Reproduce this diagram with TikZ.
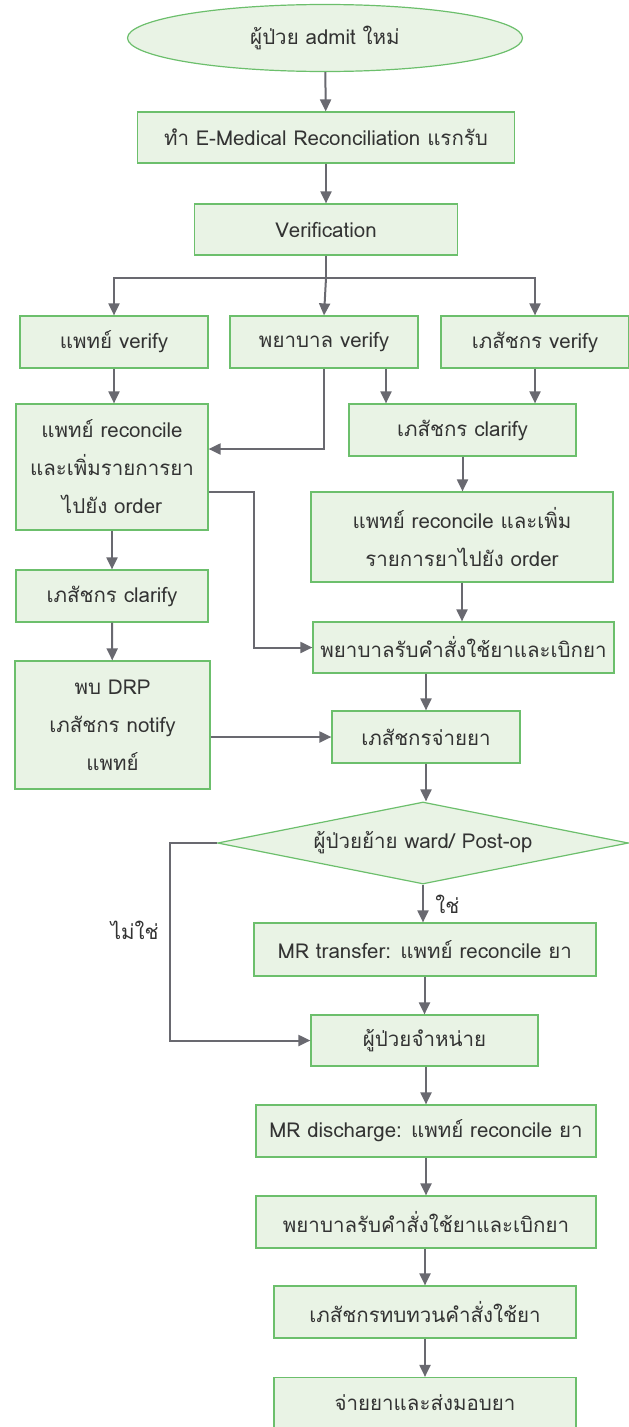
\documentclass[tikz,border=0pt]{standalone}
\usepackage{fontspec}
\setmainfont{Loma}[Script=Thai]
\usetikzlibrary{shapes.geometric,arrows.meta}
\definecolor{boxfill}{RGB}{233,243,229}
\definecolor{boxline}{RGB}{108,191,108}
\definecolor{arrowc}{RGB}{105,105,112}
\definecolor{txt}{RGB}{51,51,51}
\tikzset{>={Triangle[length=12pt,width=11pt]}}
\tikzset{
  stepbox/.style = {draw=boxline, fill=boxfill, line width=1.2pt, inner sep=0pt,
    align=center, text=txt, font=\fontsize{20.5}{38}\selectfont},
  startnode/.style = {stepbox, ellipse},
  asknode/.style = {stepbox, diamond},
  flow/.style = {->, draw=arrowc, line width=2pt},
  flowtext/.style = {text=txt, font=\fontsize{20.5}{22}\selectfont}
}

\begin{document}
\begin{tikzpicture}[x=1pt, y=-1pt]
  \useasboundingbox (0,0) rectangle (629,1427);
  % top part
  \node[startnode, minimum width=395pt, minimum height=67pt] (admit) at (325,38) {ผู้ป่วย admit ใหม่};
  \node[stepbox, minimum width=377pt, minimum height=51pt] (emr) at (326,137.5) {ทำ E-Medical Reconciliation แรกรับ};
  \node[stepbox, minimum width=263pt, minimum height=51pt] (verif) at (326,229.5) {Verification};
  % three verify steps
  \node[stepbox, minimum width=188pt, minimum height=52pt] (mdv) at (114,342) {แพทย์ verify};
  \node[stepbox, minimum width=188pt, minimum height=52pt] (nsv) at (324,342) {พยาบาล verify};
  \node[stepbox, minimum width=188pt, minimum height=52pt] (rphv) at (535,342) {เภสัชกร verify};
  % left branch
  \node[stepbox, minimum width=192pt, minimum height=126pt] (mdrec) at (112,467) {แพทย์ reconcile\\และเพิ่มรายการยา\\ไปยัง order};
  \node[stepbox, minimum width=192pt, minimum height=52pt] (rphcl) at (112,596) {เภสัชกร clarify};
  \node[stepbox, minimum width=195pt, minimum height=128pt] (drp) at (112.5,725) {พบ DRP\\เภสัชกร notify\\แพทย์};
  % right branch
  \node[stepbox, minimum width=227pt, minimum height=52pt] (rphcr) at (462.5,430) {เภสัชกร clarify};
  \node[stepbox, minimum width=302pt, minimum height=90pt] (mdrecr) at (462,537) {แพทย์ reconcile และเพิ่ม\\รายการยาไปยัง order};
  \node[stepbox, minimum width=301pt, minimum height=51pt] (nsord) at (463.5,647.5) {พยาบาลรับคำสั่งใช้ยาและเบิกยา};
  \node[stepbox, minimum width=188pt, minimum height=52pt] (disp) at (426,737) {เภสัชกรจ่ายยา};
  % decision and discharge
  \node[asknode, minimum width=411pt, minimum height=82pt] (moved) at (423,843) {\makebox[0pt]{ผู้ป่วยย้าย ward/ Post-op}};
  \node[stepbox, minimum width=342pt, minimum height=53pt] (mrtr) at (425,949.5) {MR transfer: แพทย์ reconcile ยา};
  \node[stepbox, minimum width=227pt, minimum height=51pt] (dc) at (424.5,1040.5) {ผู้ป่วยจำหน่าย};
  \node[stepbox, minimum width=340pt, minimum height=52pt] (mrdc) at (426,1131) {MR discharge: แพทย์ reconcile ยา};
  \node[stepbox, minimum width=340pt, minimum height=52pt] (nsdc) at (426,1222) {พยาบาลรับคำสั่งใช้ยาและเบิกยา};
  \node[stepbox, minimum width=302pt, minimum height=52pt] (rphrev) at (425,1312) {เภสัชกรทบทวนคำสั่งใช้ยา};
  \node[stepbox, minimum width=302pt, minimum height=51pt] (hand) at (425,1403) {จ่ายยาและส่งมอบยา};
  % arrows
  \coordinate (split) at (326,278);
  \draw[flow] (admit) -- (emr);
  \draw[flow] (emr) -- (verif);
  \draw[flow] (verif.south) -- (split) -| (mdv.north);
  \draw[flow] (split) -- (nsv.north);
  \draw[flow] (split) -| (rphv.north);
  \draw[flow] (mdv) -- (mdv |- mdrec.north);
  \draw[flow] (nsv.south) |- ([yshift=18pt]mdrec.east);
  \draw[flow] (nsv.south -| 386,0) -- (rphcr.north -| 386,0);
  \draw[flow] (rphv.south) -- (rphv.south |- rphcr.north);
  \draw[flow] (rphcr) -- (rphcr |- mdrecr.north);
  \draw[flow] (mdrecr) -- (mdrecr |- nsord.north);
  \draw[flow] ([yshift=-25pt]mdrec.east) -| (254,600) |- (nsord.west);
  \draw[flow] (mdrec) -- (rphcl);
  \draw[flow] (rphcl) -- (drp);
  \draw[flow] (drp.east |- disp.west) -- (disp.west);
  \draw[flow] (nsord.south -| disp.north) -- (disp.north);
  \draw[flow] (disp.south) -- (disp.south |- moved.north);
  \draw[flow] (moved.south) -- node[right, flowtext, xshift=8pt, yshift=-1pt] {ใช่} (moved.south |- mrtr.north);
  \draw[flow] (moved.west) -- ++(-47,0) coordinate (nobend) |- node[pos=0.22, left, flowtext, xshift=-7pt] {ไม่ใช่} (dc.west);
  \draw[flow] (mrtr.south -| dc.north) -- (dc.north);
  \draw[flow] (dc.south -| mrdc.north) -- (mrdc.north);
  \draw[flow] (mrdc) -- (nsdc);
  \draw[flow] (nsdc.south -| rphrev.north) -- (rphrev.north);
  \draw[flow] (rphrev) -- (hand);
\end{tikzpicture}
\end{document}
